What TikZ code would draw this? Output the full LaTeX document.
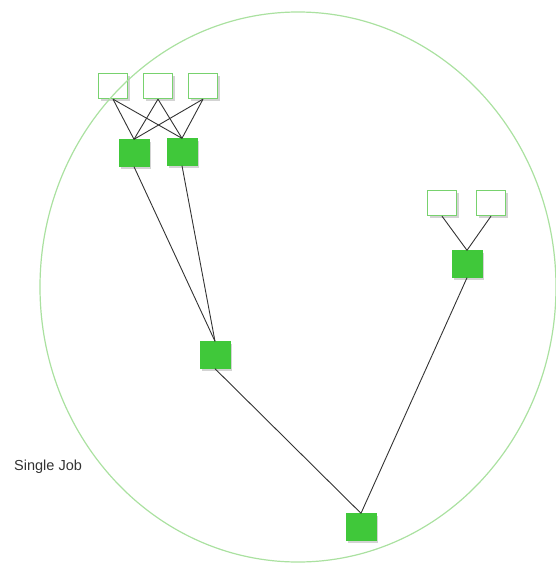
\documentclass[tikz,border=0pt]{standalone}
\usepackage{fontspec}
\setmainfont{Liberation Sans}
\usetikzlibrary{shadows,shapes.geometric}
\definecolor{jobgreen}{RGB}{64,200,58}
\definecolor{boxedge}{RGB}{120,210,110}
\definecolor{ringgreen}{RGB}{170,225,160}
\tikzset{
  inbox/.style={draw=boxedge, line width=1.3pt, fill=white, minimum width=29pt, minimum height=25pt, inner sep=0pt,
    drop shadow={shadow xshift=2pt, shadow yshift=-2pt, opacity=0.35, fill=gray}},
  task/.style={draw=jobgreen, fill=jobgreen, minimum width=30pt, minimum height=27pt, inner sep=0pt,
    drop shadow={shadow xshift=2pt, shadow yshift=-2pt, opacity=0.35, fill=gray}},
  link/.style={draw=black!80, line width=0.9pt},
  ring/.style={draw=ringgreen, line width=1.2pt}
}
\begin{document}
\begin{tikzpicture}[x=1pt,y=-1pt]
\useasboundingbox (0,0) rectangle (556,566);
% input boxes
\node[inbox] (a1) at (113,86) {};
\node[inbox] (a2) at (158,86) {};
\node[inbox] (a3) at (203,86) {};
\node[inbox] (b1) at (442,203) {};
\node[inbox] (b2) at (491,203) {};
% tasks
\node[task] (t1) at (134,153) {};
\node[task] (t2) at (182,152) {};
\node[task] (t3) at (467,264) {};
\node[task] (m) at (215,355) {};
\node[task] (r) at (361,527) {};
% links
\foreach \s in {a1,a2,a3}{
  \draw[link] (\s.south) -- (t1.north);
  \draw[link] (\s.south) -- (t2.north);
}
\draw[link] (b1.south) -- (t3.north);
\draw[link] (b2.south) -- (t3.north);
\draw[link] (t1.south) -- (m.north);
\draw[link] (t2.south) -- (m.north);
\draw[link] (m.south) -- (r.north);
\draw[link] (t3.south) -- (r.north);
% job ring
\node[ring, ellipse, minimum width=516pt, minimum height=550pt, inner sep=0pt] (job) at (298,287) {};
\node[anchor=west, inner sep=0pt, font=\fontsize{14.5pt}{17pt}\selectfont, text=black!80] (lbl) at (14,467) {Single Job};
\end{tikzpicture}
\end{document}
